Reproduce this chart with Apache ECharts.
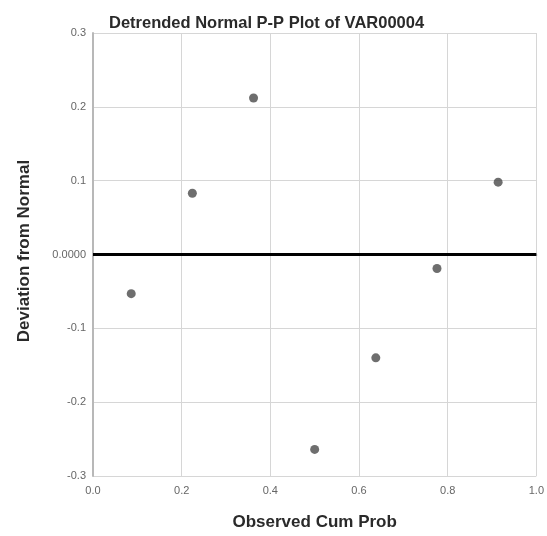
<!DOCTYPE html>
<html>
<head>
<meta charset="utf-8">
<script src="https://cdn.jsdelivr.net/npm/echarts@6/dist/echarts.min.js"></script>
<style>
  html, body { margin: 0; padding: 0; background: #fff; }
  #chart { width: 547px; height: 536px; }
</style>
</head>
<body>
<div id="chart"></div>
<script>
// Observed cumulative probabilities (Blom positions, n = 7)
const observedCumProb = [0.0862, 0.2241, 0.3621, 0.5, 0.6379, 0.7759, 0.9138];
// Deviation from the expected normal probability
const deviation = [-0.053, 0.083, 0.212, -0.264, -0.140, -0.019, 0.098];

const xTicks = [0, 0.2, 0.4, 0.6, 0.8, 1.0];
const yTicks = [-0.3, -0.2, -0.1, 0, 0.1, 0.2, 0.3];

const points = observedCumProb.map((x, i) => [x, deviation[i]]);

const chart = echarts.init(document.getElementById('chart'), null, { renderer: 'canvas' });
const font = 'Liberation Sans, Arial, sans-serif';
const nameStyle = { fontFamily: font, fontSize: 17, fontWeight: 'bold', fill: '#2a2a2a' };

chart.setOption({
  backgroundColor: '#ffffff',
  animation: false,
  title: {
    text: 'Detrended Normal P-P Plot of VAR00004',
    left: 104,
    top: 10,
    textStyle: { fontFamily: font, fontSize: 16.5, fontWeight: 'bold', color: '#2a2a2a' }
  },
  grid: { left: 93, right: 9, top: 33, bottom: 58 },
  // vertical axis title
  graphic: [{
    type: 'text',
    x: 24,
    y: 251,
    rotation: Math.PI / 2,
    style: Object.assign({ text: 'Deviation from Normal', align: 'center', verticalAlign: 'middle' }, nameStyle)
  }],
  xAxis: {
    type: 'value',
    min: xTicks[0],
    max: xTicks[xTicks.length - 1],
    interval: 0.2,
    name: 'Observed Cum Prob',
    nameLocation: 'middle',
    nameGap: 38,
    nameTextStyle: { fontFamily: font, fontSize: 17, fontWeight: 'bold', color: '#2a2a2a' },
    axisLine: { show: true, lineStyle: { color: '#b8b8b8', width: 2 } },
    axisTick: { show: false },
    splitLine: { show: true, lineStyle: { color: '#d6d6d6', width: 1 } },
    axisLabel: {
      fontFamily: font, fontSize: 11, color: '#666', margin: 9,
      formatter: v => v.toFixed(1)
    }
  },
  yAxis: {
    type: 'value',
    min: yTicks[0],
    max: yTicks[yTicks.length - 1],
    interval: 0.1,
    axisLine: { show: true, lineStyle: { color: '#b8b8b8', width: 2 } },
    axisTick: { show: false },
    splitLine: { show: true, lineStyle: { color: '#d6d6d6', width: 1 } },
    axisLabel: {
      fontFamily: font, fontSize: 11, color: '#666', margin: 7,
      formatter: v => Math.abs(v) < 1e-9 ? '0.0000' : v.toFixed(1)
    }
  },
  series: [{
    type: 'scatter',
    data: points,
    symbol: 'circle',
    symbolSize: 9,
    itemStyle: { color: '#4a4a4a' },
    markLine: {
      silent: true,
      symbol: ['none', 'none'],
      label: { show: false },
      lineStyle: { color: '#000', width: 3, type: 'solid' },
      data: [{ yAxis: 0 }]
    },
    z: 3
  }]
});
</script>
</body>
</html>
